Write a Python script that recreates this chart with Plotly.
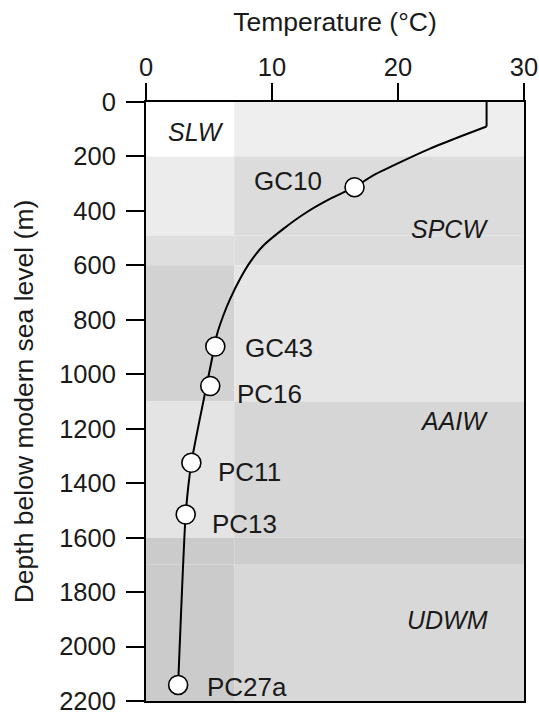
import plotly.graph_objects as go

# ---- data -------------------------------------------------------------
# Modern temperature profile (depth in m, temperature in degC)
profile_depth = [0, 90, 122, 172, 227, 270, 313, 356, 405, 466, 528, 589, 650, 724, 785,
                 859, 902, 1043, 1325, 1515, 2141]
profile_temp = [27.03, 27.03, 25.2, 22.5, 19.9, 18.0, 16.55, 14.6, 12.75, 10.9, 9.3, 8.25,
                7.46, 6.67, 6.13, 5.6, 5.42, 4.8, 3.6, 3.15, 2.55]

# Core sites on the profile
core_names = ["GC10", "GC43", "PC16", "PC11", "PC13", "PC27a"]
core_temp = [16.55, 5.5, 5.1, 3.6, 3.15, 2.55]
core_depth = [313, 898, 1043, 1325, 1515, 2141]

# Water-mass zones: depth boundaries (m) and the temperature splitting the
# shaded background into a left and a right column
zone_top = [0, 200, 490, 600, 1100, 1600, 1700]
zone_bottom = [200, 490, 600, 1100, 1600, 1700, 2200]
column_split = 7

# Water-mass names
zone_names = ["SLW", "SPCW", "AAIW", "UDWM"]

# ---- style ------------------------------------------------------------
FONT = "Liberation Sans, Arial, Helvetica, sans-serif"
INK = "#1a1a1a"
left_fill = ["#ffffff", "#ececec", "#dedede", "#d2d2d2", "#e4e4e4", "#cbcbcb", "#cbcbcb"]
right_fill = ["#eeeeee", "#dcdcdc", "#dcdcdc", "#e6e6e6", "#d6d6d6", "#cdcdcd", "#d8d8d8"]

# label placement for the water masses (temperature, depth, anchor)
zone_label_pos = [(1.6, 110, "left"), (27.3, 466, "right"), (27.3, 1170, "right"),
                  (27.3, 1902, "right")]
# label offsets from each core marker (pixels: dx, dy, anchor)
core_label_off = [(-31, -6, "right"), (28, 1, "left"), (25, 8, "left"),
                  (25, 9, "left"), (24, 10, "left"), (27, 2, "left")]

fig = go.Figure()

# shaded water-mass background
shapes = []
for i in range(len(zone_top)):
    shapes.append(dict(type="rect", xref="x", yref="y", layer="below",
                       x0=0, x1=column_split, y0=zone_top[i], y1=zone_bottom[i],
                       fillcolor=left_fill[i], line=dict(width=0)))
    shapes.append(dict(type="rect", xref="x", yref="y", layer="below",
                       x0=column_split, x1=30, y0=zone_top[i], y1=zone_bottom[i],
                       fillcolor=right_fill[i], line=dict(width=0)))

# temperature profile: straight mixed layer, then smooth thermocline
fig.add_trace(go.Scatter(x=profile_temp[:2], y=profile_depth[:2], mode="lines",
                         line=dict(color="black", width=2), hoverinfo="skip",
                         showlegend=False))
fig.add_trace(go.Scatter(x=profile_temp[1:], y=profile_depth[1:], mode="lines",
                         line=dict(color="black", width=2, shape="spline", smoothing=0.5),
                         hoverinfo="skip", showlegend=False))

# core sites
fig.add_trace(go.Scatter(x=core_temp, y=core_depth, mode="markers",
                         marker=dict(size=19, color="white",
                                     line=dict(color="black", width=1.6)),
                         text=core_names, showlegend=False))

annotations = []
for name, t, d, (dx, dy, anc) in zip(core_names, core_temp, core_depth, core_label_off):
    annotations.append(dict(x=t, y=d, xref="x", yref="y", text=name, showarrow=False,
                            xanchor=anc, yanchor="middle", xshift=dx, yshift=-dy,
                            font=dict(family=FONT, size=26, color=INK)))
for name, (t, d, anc) in zip(zone_names, zone_label_pos):
    annotations.append(dict(x=t, y=d, xref="x", yref="y", text="<i>%s</i>" % name,
                            showarrow=False, xanchor=anc, yanchor="middle",
                            font=dict(family=FONT, size=25, color=INK)))

fig.update_layout(
    width=539, height=715,
    margin=dict(l=146, r=15, t=102, b=14),
    paper_bgcolor="white", plot_bgcolor="white",
    font=dict(family=FONT, size=25, color=INK),
    shapes=shapes, annotations=annotations,
    xaxis=dict(side="top", range=[0, 30], tickvals=[0, 10, 20, 30],
               ticks="outside", ticklen=17, tickwidth=1.5, tickcolor="black",
               showline=True, linewidth=2, linecolor="black", mirror=True,
               showgrid=False, zeroline=False, automargin=False,
               ticklabelstandoff=-3,
               title=dict(text="Temperature (°C)", standoff=14,
                          font=dict(family=FONT, size=26.5, color=INK)),
               tickfont=dict(family=FONT, size=25.5, color=INK)),
    yaxis=dict(range=[2200, 0], tickvals=list(range(0, 2201, 200)),
               ticks="outside", ticklen=18, tickwidth=1.5, tickcolor="black",
               showline=True, linewidth=2, linecolor="black", mirror=True,
               showgrid=False, zeroline=False, automargin=False,
               ticklabelstandoff=5,
               title=dict(text="Depth below modern sea level (m)", standoff=18,
                          font=dict(family=FONT, size=26.5, color=INK)),
               tickfont=dict(family=FONT, size=25.5, color=INK)),
)

fig.write_html("out.html")
